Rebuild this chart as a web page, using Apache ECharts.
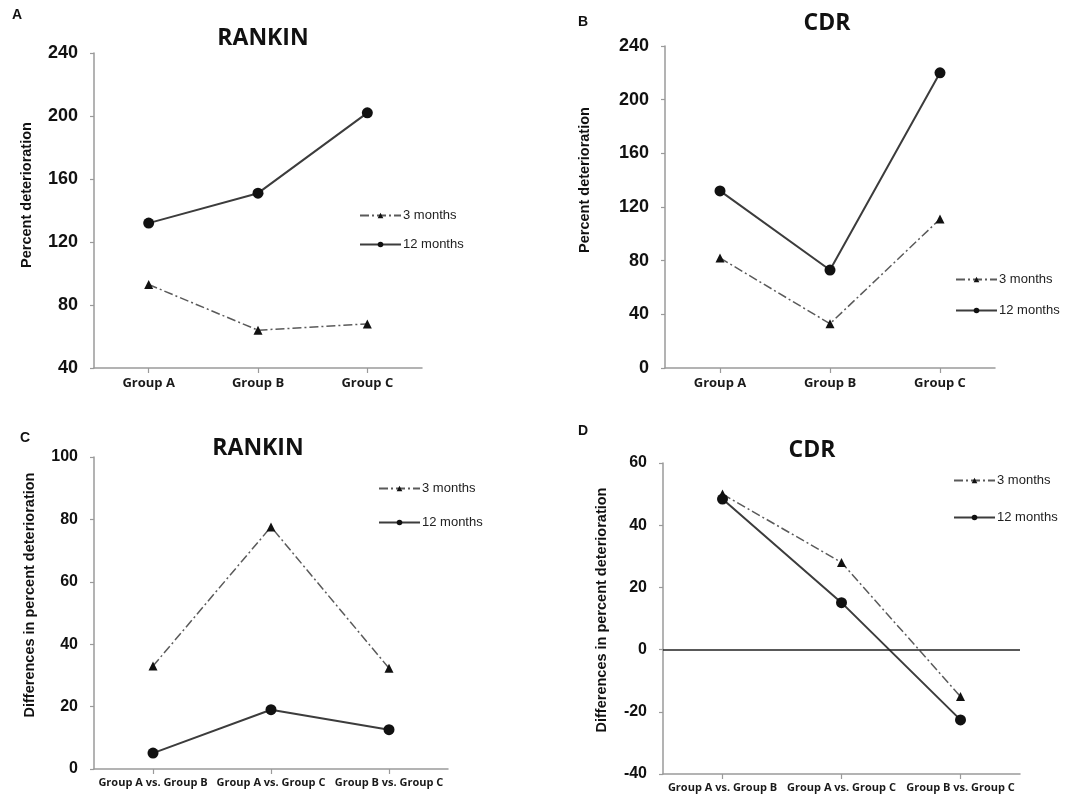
<!DOCTYPE html>
<html>
<head>
<meta charset="utf-8">
<script src="https://cdn.jsdelivr.net/npm/echarts@6/dist/echarts.min.js"></script>
<style>
html,body{margin:0;padding:0;background:#fff;}
#chart{width:1076px;height:796px;}
</style>
</head>
<body>
<div id="chart"></div>
<script>
// ---- Data ----
const groupCats = ['Group A', 'Group B', 'Group C'];
const diffCats = ['Group A vs. Group B', 'Group A vs. Group C', 'Group B vs. Group C'];

const rankin3 = [93, 64, 68];
const rankin12 = [132, 151, 202];
const cdr3 = [82, 33, 111];
const cdr12 = [132, 73, 220];
const rankinDiff3 = [33, 77.6, 32.3];
const rankinDiff12 = [5.1, 19, 12.6];
const cdrDiff3 = [50, 28, -15.1];
const cdrDiff12 = [48.4, 15.1, -22.6];

const seriesNames = ['3 months', '12 months'];
const panelTitles = ['RANKIN', 'CDR', 'RANKIN', 'CDR'];
const panelLetters = ['A', 'B', 'C', 'D'];
const yNames = ['Percent deterioration', 'Percent deterioration', 'Differences in percent deterioration', 'Differences in percent deterioration'];

// ---- Layout / style ----
const grids = [
  {left: 94, top: 53, width: 328, height: 315},
  {left: 665, top: 46, width: 330, height: 322},
  {left: 94, top: 457, width: 354, height: 312},
  {left: 663, top: 463, width: 357, height: 311}
];
const yRanges = [
  {min: 40, max: 240, interval: 40},
  {min: 0, max: 240, interval: 40},
  {min: 0, max: 100, interval: 20},
  {min: -40, max: 60, interval: 20}
];
const axisColor = '#9a9a9a';

const xAxes = grids.map((g, i) => ({
  type: 'category',
  gridIndex: i,
  data: i < 2 ? groupCats : diffCats,
  boundaryGap: true,
  axisLine: {show: true, onZero: false, lineStyle: {color: axisColor, width: 1.5}},
  axisTick: {show: true, alignWithLabel: true, length: 5, lineStyle: {color: axisColor, width: 1.2}},
  axisLabel: {
    color: '#1a1a1a', fontFamily: 'Open Sans', fontWeight: 'bold',
    fontSize: i < 2 ? 13 : 11, margin: i < 2 ? 9 : 8, interval: 0
  },
  splitLine: {show: false}
}));

const yAxes = grids.map((g, i) => ({
  type: 'value',
  gridIndex: i,
  min: yRanges[i].min, max: yRanges[i].max, interval: yRanges[i].interval,
  axisLine: {show: true, lineStyle: {color: axisColor, width: 1.5}},
  axisTick: {show: true, length: 4, lineStyle: {color: axisColor, width: 1.2}},
  axisLabel: {
    color: '#111', fontFamily: 'Liberation Sans, Arial', fontWeight: 'bold',
    fontSize: i < 2 ? 18 : 16, margin: 16
  },
  splitLine: {show: false}
}));

const dataSets = [
  [rankin3, rankin12],
  [cdr3, cdr12],
  [rankinDiff3, rankinDiff12],
  [cdrDiff3, cdrDiff12]
];

const series = [];
dataSets.forEach((pair, i) => {
  series.push({
    name: seriesNames[0], type: 'line', xAxisIndex: i, yAxisIndex: i,
    data: pair[0],
    symbol: 'triangle', symbolSize: 9,
    itemStyle: {color: '#111'},
    lineStyle: {color: '#5a5a5a', width: 1.5, type: [9, 3, 2, 3]},
    z: 3
  });
  const s12 = {
    name: seriesNames[1], type: 'line', xAxisIndex: i, yAxisIndex: i,
    data: pair[1],
    symbol: 'circle', symbolSize: 11,
    itemStyle: {color: '#111'},
    lineStyle: {color: '#3c3c3c', width: 2, type: 'solid'},
    z: 4
  };
  if (i === 3) {
    s12.markLine = {
      silent: true, symbol: 'none',
      label: {show: false},
      lineStyle: {color: '#222', width: 1.5, type: 'solid'},
      data: [{yAxis: 0}]
    };
  }
  series.push(s12);
});

const legendPos = [
  {left: 359, top: 209, itemGap: 16},
  {left: 955, top: 273, itemGap: 18},
  {left: 378, top: 482, itemGap: 21},
  {left: 953, top: 474, itemGap: 24}
];
const legends = legendPos.map(p => ({
  orient: 'vertical',
  left: p.left, top: p.top,
  itemGap: p.itemGap,
  itemWidth: 41, itemHeight: 7,
  padding: 0,
  data: seriesNames,
  textStyle: {color: '#222', fontFamily: 'Liberation Sans, Arial', fontSize: 13, padding: [0, 0, 0, -3]}
}));

const titlePos = [[263, 38], [827, 23], [258, 448], [812, 450]];
const letterPos = [[17, 15], [583, 22], [25, 438], [583, 431]];
const yNamePos = [[27, 195], [585, 180], [30, 595], [602, 610]];
const graphics = [];
titlePos.forEach((p, i) => {
  graphics.push({
    type: 'text', x: p[0], y: p[1],
    style: {text: panelTitles[i], fill: '#111', font: 'bold 23px "Open Sans"', textAlign: 'center', textVerticalAlign: 'middle'}
  });
});
letterPos.forEach((p, i) => {
  graphics.push({
    type: 'text', x: p[0], y: p[1],
    style: {text: panelLetters[i], fill: '#111', font: 'bold 14px "Liberation Sans", Arial', textAlign: 'center', textVerticalAlign: 'middle'}
  });
});
yNamePos.forEach((p, i) => {
  graphics.push({
    type: 'text', x: p[0], y: p[1], rotation: Math.PI / 2,
    style: {text: yNames[i], fill: '#111', font: 'bold 14.5px "Liberation Sans", Arial', textAlign: 'center', textVerticalAlign: 'middle'}
  });
});

const chart = echarts.init(document.getElementById('chart'), null, {renderer: 'canvas'});
chart.setOption({
  backgroundColor: '#fff',
  animation: false,
  grid: grids,
  xAxis: xAxes,
  yAxis: yAxes,
  legend: legends,
  series: series,
  graphic: graphics
});
</script>
</body>
</html>
